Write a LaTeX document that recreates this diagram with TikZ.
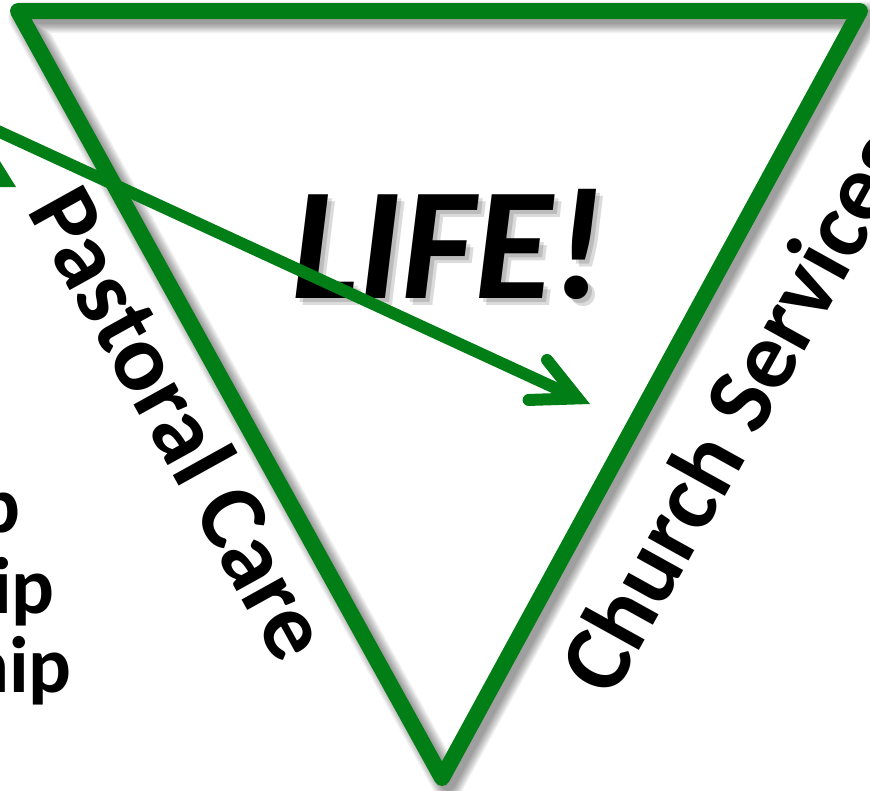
\documentclass[tikz,border=0pt]{standalone}
\usepackage{fontspec}
\setmainfont{Carlito}
\usetikzlibrary{arrows.meta,calc}
\definecolor{lifegreen}{RGB}{2,126,22}
\begin{document}
\begin{tikzpicture}[x=1pt,y=-1pt,
  edgeline/.style={draw=lifegreen,line width=16pt,line join=round,line cap=round},
  shadowline/.style={draw=black,opacity=0.055,line join=round},
  arrowline/.style={draw=lifegreen,line width=12pt,
     -{Straight Barb[length=44pt,width=44pt,line cap=round,line join=miter]}},
  sidelabel/.style={inner sep=0pt,font=\fontsize{96}{96}\selectfont\bfseries},
  leftlabel/.style={inner sep=0pt,anchor=base east,font=\fontsize{80}{80}\selectfont\bfseries},
  lifetext/.style={inner sep=0pt,anchor=base,font=\fontsize{160}{160}\selectfont\bfseries\itshape}]
\clip (0,0) rectangle (870,790);
\fill[white] (0,0) rectangle (870,790);
% triangle corners
\coordinate (TL) at (18,11);
\coordinate (TR) at (860,11);
\coordinate (BT) at (442,778);
% triangle shadow
\foreach \k in {0,...,7}{
  \draw[shadowline,line width={14+2.5*\k}]
    ($(TL)+(6,6)$) -- ($(TR)+(6,6)$) -- ($(BT)+(6,6)$) -- cycle;
}
\draw[edgeline] (TL) -- (TR) -- (BT) -- cycle;
% LIFE! with soft shadow
\foreach \d in {4,7}{
  \node[lifetext,text=black,opacity=0.14] at (448+\d,298+\d) {LIFE!};
}
\node[lifetext] (life) at (448,298) {LIFE!};
% side labels
\node[sidelabel,anchor=base west,rotate=-61] (pastoral) at (26,210) {Pastoral Care};
\node[sidelabel,anchor=base west,rotate=61] (church) at (612,700) {Church Services};
% cut-off left labels
\node[leftlabel] (l1) at (21,532) {p};
\node[leftlabel] (l2) at (55,613) {ip};
\node[leftlabel] (l3) at (72,692) {hip};
% arrow
\coordinate (astart) at (-20,122.8);
\coordinate (aend) at (590,404);
\draw[arrowline] (astart) -- (aend);
% fragment of another arrowhead at the left edge
\coordinate (f1) at (-2,158);
\coordinate (f2) at (16,187);
\coordinate (f3) at (-2,187);
\fill[lifegreen] (f1) -- (f2) -- (f3) -- cycle;
\end{tikzpicture}
\end{document}
